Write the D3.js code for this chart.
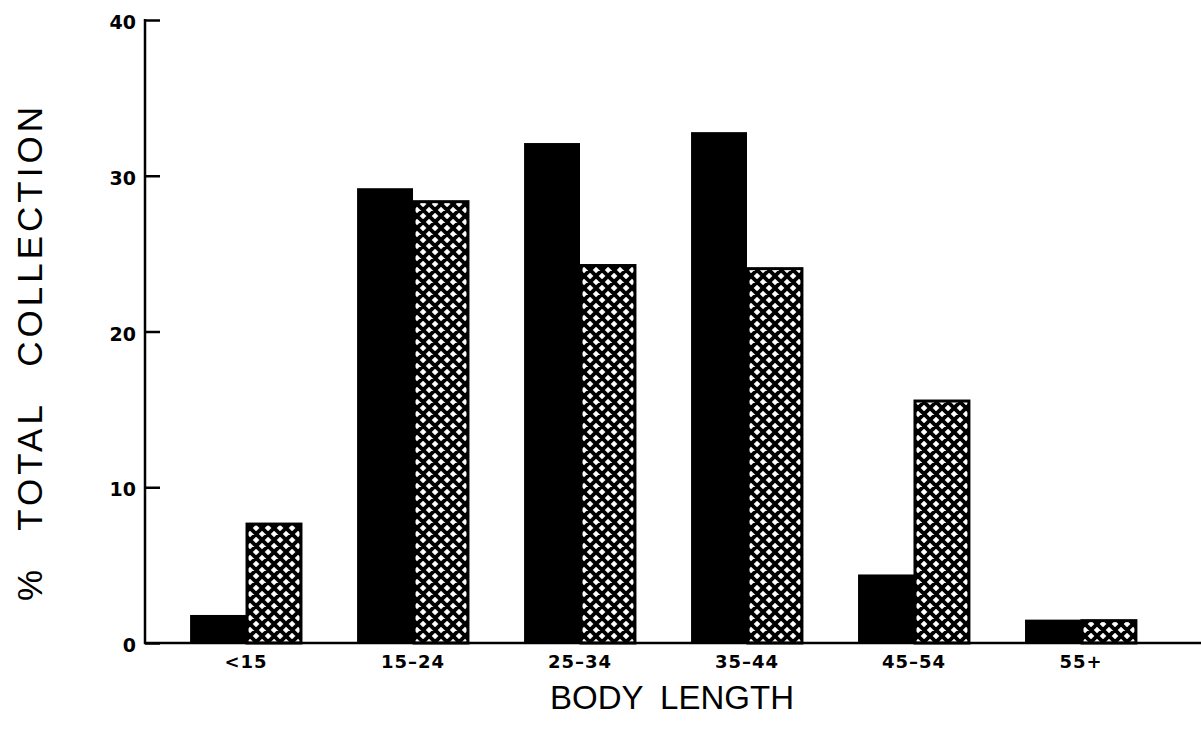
<!DOCTYPE html>
<html>
<head>
<meta charset="utf-8">
<script src="https://cdn.jsdelivr.net/npm/d3@7"></script>
<style>
  body { margin: 0; background: #fff; }
  svg { display: block; }
</style>
</head>
<body>
<svg width="1201" height="730"></svg>
<script>
// data
var categories = ["<15", "15\u201324", "25\u201334", "35\u201344", "45\u201354", "55+"];
var solidValues = [1.8, 29.2, 32.1, 32.8, 4.4, 1.5];
var hatchValues = [7.7, 28.4, 24.3, 24.1, 15.6, 1.5];
var yTicks = [0, 10, 20, 30, 40];

var svg = d3.select("svg");

var x = d3.scaleBand()
    .domain(categories)
    .range([145, 1182])
    .paddingInner(0.33)
    .paddingOuter(0.27);

var sub = d3.scaleBand()
    .domain(["solid", "hatch"])
    .range([0, x.bandwidth()]);

var y = d3.scaleLinear()
    .domain([0, 40])
    .range([643, 20]);

// crosshatch pattern
var defs = svg.append("defs");
var p = 12;
var pat = defs.append("pattern")
    .attr("id", "xhatch")
    .attr("patternUnits", "userSpaceOnUse")
    .attr("width", p)
    .attr("height", p);
pat.append("rect").attr("width", p).attr("height", p).attr("fill", "#fff");
pat.append("path")
    .attr("d", "M" + (-p) + "," + (-p) + " L" + (2 * p) + "," + (2 * p) +
               " M" + (2 * p) + "," + (-p) + " L" + (-p) + "," + (2 * p) +
               " M" + (-p) + "," + 0 + " L" + p + "," + (2 * p) +
               " M0," + (-p) + " L" + (2 * p) + "," + p +
               " M" + (-p) + "," + p + " L" + p + "," + (-p) +
               " M0," + (2 * p) + " L" + (2 * p) + ",0")
    .attr("stroke", "#000")
    .attr("stroke-width", 3.8);

var rows = categories.map(function(c, i) {
    return { cat: c, solid: solidValues[i], hatch: hatchValues[i] };
});

var groups = svg.selectAll("g.grp")
    .data(rows)
    .enter().append("g")
    .attr("class", "grp")
    .attr("transform", function(d) { return "translate(" + x(d.cat) + ",0)"; });

groups.append("rect")
    .attr("x", sub("solid"))
    .attr("y", function(d) { return y(d.solid); })
    .attr("width", sub.bandwidth())
    .attr("height", function(d) { return y(0) - y(d.solid); })
    .attr("fill", "#000");

groups.append("rect")
    .attr("x", sub("hatch") + 1)
    .attr("y", function(d) { return y(d.hatch) + 1; })
    .attr("width", sub.bandwidth() - 2)
    .attr("height", function(d) { return y(0) - y(d.hatch) - 1; })
    .attr("fill", "url(#xhatch)")
    .attr("stroke", "#000")
    .attr("stroke-width", 3);

// y axis, ticks pointing inward
var yAxis = d3.axisRight(y)
    .tickValues(yTicks)
    .tickSize(15)
    .tickFormat("");
var gy = svg.append("g")
    .attr("transform", "translate(145,0)")
    .call(yAxis);
gy.select(".domain").remove();
gy.selectAll(".tick line").attr("stroke", "#000").attr("stroke-width", 2.5);

svg.append("line")
    .attr("x1", 145).attr("x2", 145)
    .attr("y1", y(40) - 1).attr("y2", y(0) + 1)
    .attr("stroke", "#000").attr("stroke-width", 2.5);

svg.selectAll("text.ytick")
    .data(yTicks)
    .enter().append("text")
    .attr("class", "ytick")
    .attr("x", 136)
    .attr("y", function(d) { return y(d) + 9; })
    .attr("text-anchor", "end")
    .attr("font-family", "DejaVu Sans, sans-serif")
    .attr("font-weight", "bold")
    .attr("font-size", 19)
    .text(function(d) { return d; });

// x baseline
svg.append("line")
    .attr("x1", 144).attr("x2", 1201)
    .attr("y1", y(0)).attr("y2", y(0))
    .attr("stroke", "#000").attr("stroke-width", 2.5);

var xAxis = d3.axisBottom(x).tickSize(0);
var gx = svg.append("g")
    .attr("transform", "translate(0," + y(0) + ")")
    .call(xAxis);
gx.select(".domain").remove();
gx.selectAll("text")
    .attr("y", 25)
    .attr("dy", null)
    .attr("fill", "#000")
    .attr("font-family", "DejaVu Sans, sans-serif")
    .attr("font-weight", "bold")
    .attr("font-size", 18)
    .attr("letter-spacing", 1);

// axis titles
svg.append("text")
    .attr("x", 672)
    .attr("y", 709)
    .attr("text-anchor", "middle")
    .attr("font-family", "Liberation Sans, Arial, sans-serif")
    .attr("font-size", 33)
    .attr("word-spacing", 8)
    .text("BODY LENGTH");

svg.append("text")
    .attr("transform", "translate(42,352) rotate(-90)")
    .attr("text-anchor", "middle")
    .attr("font-family", "Liberation Sans, Arial, sans-serif")
    .attr("font-size", 35)
    .attr("letter-spacing", 4)
    .attr("word-spacing", 22)
    .text("% TOTAL COLLECTION");
</script>
</body>
</html>
